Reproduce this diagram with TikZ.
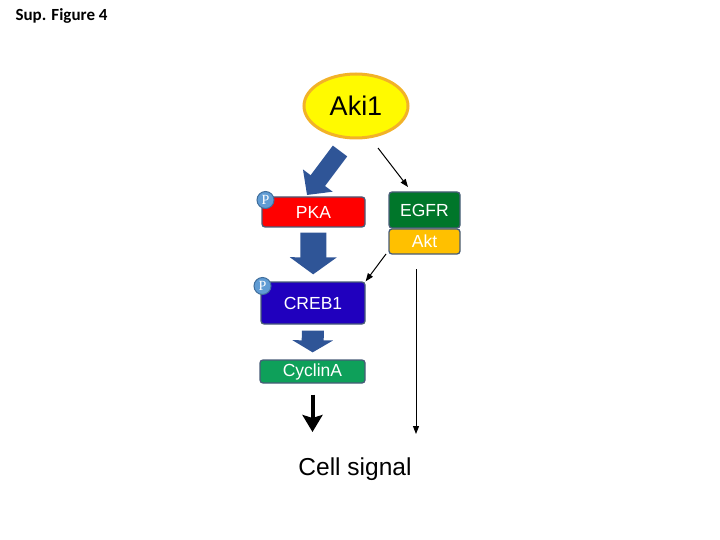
\documentclass[tikz,border=0pt]{standalone}
\usepackage{xcolor}
\usepackage{fontspec}
\setmainfont{Liberation Sans}
\newfontfamily\titlefont{Carlito}
\newfontfamily\phosfont{Liberation Serif}
\usepackage{tikz}
\usetikzlibrary{arrows.meta,shapes.geometric}
\definecolor{akiyellow}{RGB}{255,250,0}
\definecolor{akiborder}{RGB}{242,178,40}
\definecolor{boxborder}{RGB}{72,92,120}
\definecolor{pkared}{RGB}{255,0,0}
\definecolor{egfrgreen}{RGB}{0,118,42}
\definecolor{aktorange}{RGB}{255,192,0}
\definecolor{crebblue}{RGB}{32,0,190}
\definecolor{cyclingreen}{RGB}{14,160,90}
\definecolor{pfill}{RGB}{96,156,212}
\definecolor{pborder}{RGB}{64,110,156}
\definecolor{blockblue}{RGB}{47,85,151}
\tikzstyle{prot} = [draw=boxborder, line width=1.3pt, rounded corners=3pt, text=white,
  font=\fontsize{17.5}{20}\selectfont, inner sep=0pt]
\tikzstyle{phos} = [circle, draw=pborder, line width=1pt, fill=pfill, minimum size=17pt,
  inner sep=0pt, text=white, font=\phosfont\fontsize{14}{14}\selectfont]
\tikzstyle{blockarrow} = [line width=20pt, draw=blockblue, -{Triangle[width=40pt,length=14pt]}]
\tikzstyle{thinarrow} = [line width=1pt, -{Triangle[width=6pt,length=8pt]}]

\begin{document}
\begin{tikzpicture}[x=1pt, y=-1pt]
\useasboundingbox (0,0) rectangle (720,540);
\node[anchor=west, font=\titlefont\bfseries\fontsize{17}{19}\selectfont] (title) at (12,16) {Sup. Figure 4};
\node[ellipse, draw=akiborder, line width=3pt, fill=akiyellow, minimum width=104pt,
  minimum height=64pt, inner sep=0pt, font=\fontsize{27}{30}\selectfont] (aki) at (356,106) {Aki1};
\node[prot, fill=pkared, minimum width=103pt, minimum height=30pt] (pka) at (313.5,212) {PKA};
\node[phos] (p1) at (265.5,200) {P};
\node[prot, fill=egfrgreen, minimum width=71pt, minimum height=36pt] (egfr) at (424.5,210) {EGFR};
\node[prot, fill=aktorange, minimum width=71pt, minimum height=25pt] (akt) at (424.5,241.5) {Akt};
\node[prot, fill=crebblue, minimum width=104pt, minimum height=42pt] (creb) at (313,303) {CREB1};
\node[phos] (p2) at (262.5,286) {P};
\node[prot, fill=cyclingreen, minimum width=105pt, minimum height=23pt] (cyclin) at (312.5,371.5) {CyclinA};
\node[font=\fontsize{24.5}{28}\selectfont] (cell) at (355,469) {Cell signal};
\coordinate (akitail) at (340,151);
\coordinate (pkahead) at (307,195);
\draw[blockarrow, line width=18pt, -{Triangle[width=36pt,length=18pt]}] (akitail) -- (pkahead);
\draw[blockarrow, line width=26pt, -{Triangle[width=46pt,length=17pt]}, shorten <=5pt, shorten >=7pt] (pka) -- (creb);
\draw[blockarrow, line width=22pt, -{Triangle[width=40pt,length=12pt]}, shorten <=6pt, shorten >=7pt] (creb) -- (cyclin);
\coordinate (egfrin) at (378,148);
\draw[thinarrow] (egfrin) -- (408,187);
\coordinate (aktout) at (386,254);
\draw[thinarrow] (aktout) -- (creb.north east);
\coordinate (sigtop) at (416,269);
\coordinate (sigend) at (416,434);
\draw[thinarrow] (sigtop) -- (sigend);
\draw[line width=4pt, -{Stealth[width=20pt,length=17pt,inset=3pt]}, shorten <=11pt, shorten >=2pt] (cyclin.south) -- (cyclin.south |- sigend);
\end{tikzpicture}
\end{document}
